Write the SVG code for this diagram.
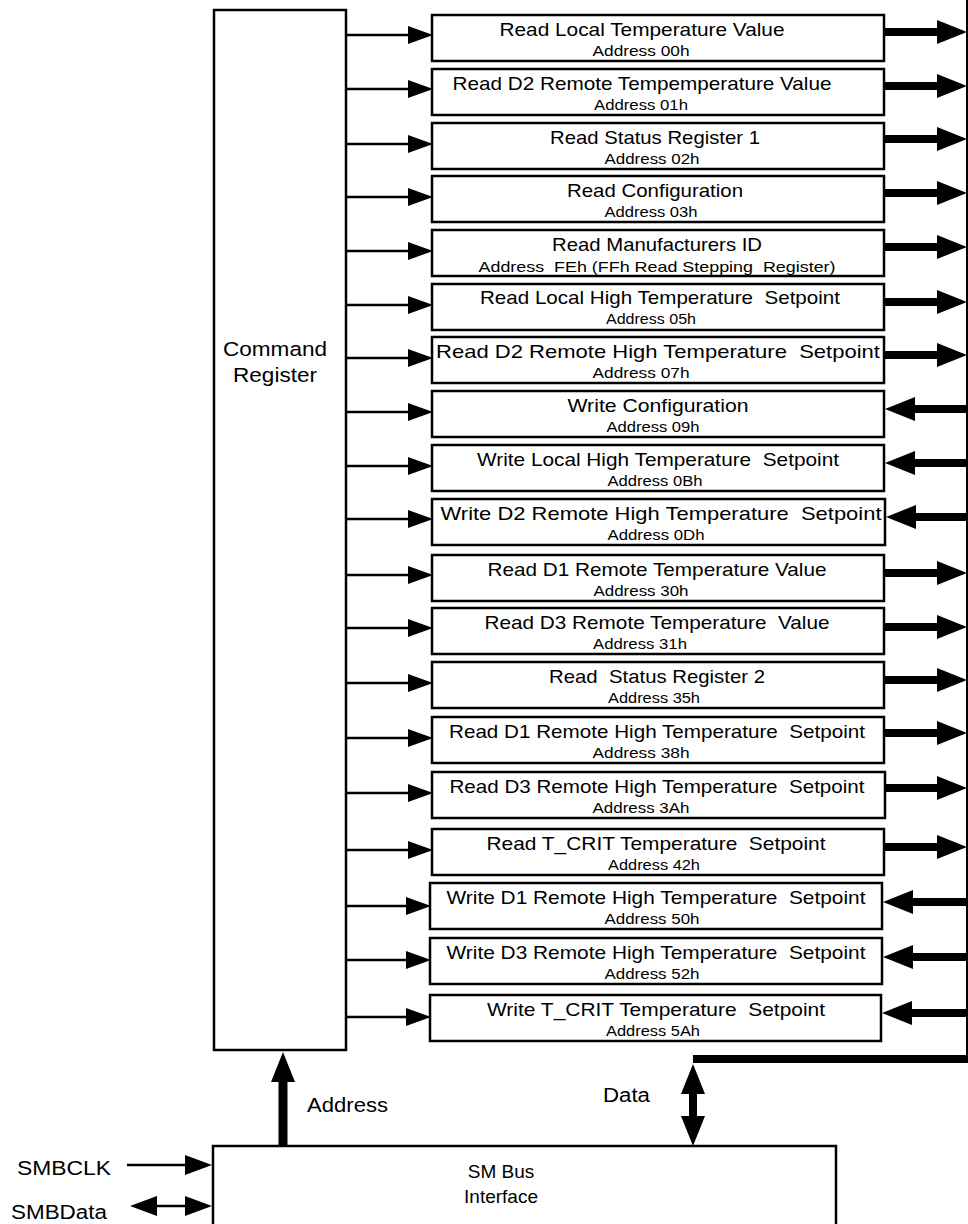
<svg xmlns="http://www.w3.org/2000/svg" width="968" height="1224" viewBox="0 0 968 1224">
<defs>
<style>
text{font-family:"Liberation Sans",Arial,Helvetica,sans-serif;fill:#000;white-space:pre}
.box{fill:#fff;stroke:#000;stroke-width:2.5}
.t{font-size:19px;text-anchor:middle}
.a{font-size:15px;text-anchor:middle}
.lbl{font-size:19.5px}
.thin{stroke:#000;stroke-width:2.5;fill:none}
.thick{stroke:#000;stroke-width:8;fill:none}
</style>
<marker id="ahs" markerUnits="userSpaceOnUse" markerWidth="25" markerHeight="18" refX="0" refY="9" orient="auto-start-reverse"><path d="M0,0 L25,9 L0,18 z" fill="#000"/></marker>
<marker id="ahm" markerUnits="userSpaceOnUse" markerWidth="27" markerHeight="20" refX="0" refY="10" orient="auto-start-reverse"><path d="M0,0 L27,10 L0,20 z" fill="#000"/></marker>
<marker id="ahb" markerUnits="userSpaceOnUse" markerWidth="30" markerHeight="24" refX="0" refY="12" orient="auto-start-reverse"><path d="M0,0 L30,12 L0,24 z" fill="#000"/></marker>
</defs>
<rect width="968" height="1224" fill="#fff"/>

<g id="command-register">
<rect class="box" x="214" y="10" width="132" height="1040"/>
<text x="275" y="356" style="font-size:20.5px;text-anchor:middle" textLength="104" lengthAdjust="spacingAndGlyphs">Command</text>
<text x="275" y="382" style="font-size:20.5px;text-anchor:middle" textLength="84" lengthAdjust="spacingAndGlyphs">Register</text>
</g>

<g id="sm-bus-interface">
<rect class="box" x="213" y="1146" width="623" height="100"/>
<text x="501" y="1178" class="t">SM Bus</text>
<text x="501" y="1203" class="t">Interface</text>
</g>

<g id="reg-00h"><rect class="box" x="432" y="15" width="452" height="46"/>
<text class="t" x="642" y="36" textLength="285" lengthAdjust="spacingAndGlyphs">Read Local Temperature Value</text>
<text class="a" x="641" y="56" textLength="97" lengthAdjust="spacingAndGlyphs">Address 00h</text></g>
<g id="reg-01h"><rect class="box" x="432" y="69" width="452" height="46"/>
<text class="t" x="642" y="90" textLength="379" lengthAdjust="spacingAndGlyphs">Read D2 Remote Tempemperature Value</text>
<text class="a" x="641" y="110" textLength="94" lengthAdjust="spacingAndGlyphs">Address 01h</text></g>
<g id="reg-02h"><rect class="box" x="432" y="123" width="452" height="46"/>
<text class="t" x="655" y="144" textLength="210" lengthAdjust="spacingAndGlyphs">Read Status Register 1</text>
<text class="a" x="652" y="164" textLength="95" lengthAdjust="spacingAndGlyphs">Address 02h</text></g>
<g id="reg-03h"><rect class="box" x="432" y="176" width="452" height="46"/>
<text class="t" x="655" y="197" textLength="176" lengthAdjust="spacingAndGlyphs">Read Configuration</text>
<text class="a" x="651" y="217" textLength="93" lengthAdjust="spacingAndGlyphs">Address 03h</text></g>
<g id="reg-feh"><rect class="box" x="432" y="230" width="452" height="46"/>
<text class="t" x="657" y="251" textLength="210" lengthAdjust="spacingAndGlyphs">Read Manufacturers ID</text>
<text class="a" x="657" y="272" textLength="357" lengthAdjust="spacingAndGlyphs">Address  FEh (FFh Read Stepping  Register)</text></g>
<g id="reg-05h"><rect class="box" x="432" y="284" width="452" height="46"/>
<text class="t" x="660" y="304" textLength="360" lengthAdjust="spacingAndGlyphs">Read Local High Temperature  Setpoint</text>
<text class="a" x="651" y="324" textLength="90" lengthAdjust="spacingAndGlyphs">Address 05h</text></g>
<g id="reg-07h"><rect class="box" x="432" y="337" width="452" height="46"/>
<text class="t" x="658" y="358" textLength="444" lengthAdjust="spacingAndGlyphs">Read D2 Remote High Temperature  Setpoint</text>
<text class="a" x="641" y="378" textLength="97" lengthAdjust="spacingAndGlyphs">Address 07h</text></g>
<g id="reg-09h"><rect class="box" x="432" y="391" width="452" height="46"/>
<text class="t" x="658" y="412" textLength="181" lengthAdjust="spacingAndGlyphs">Write Configuration</text>
<text class="a" x="653" y="432" textLength="93" lengthAdjust="spacingAndGlyphs">Address 09h</text></g>
<g id="reg-0bh"><rect class="box" x="432" y="445" width="452" height="46"/>
<text class="t" x="658" y="466" textLength="362" lengthAdjust="spacingAndGlyphs">Write Local High Temperature  Setpoint</text>
<text class="a" x="655" y="486" textLength="95" lengthAdjust="spacingAndGlyphs">Address 0Bh</text></g>
<g id="reg-0dh"><rect class="box" x="432" y="499" width="453" height="46"/>
<text class="t" x="661" y="520" textLength="441" lengthAdjust="spacingAndGlyphs">Write D2 Remote High Temperature  Setpoint</text>
<text class="a" x="656" y="540" textLength="97" lengthAdjust="spacingAndGlyphs">Address 0Dh</text></g>
<g id="reg-30h"><rect class="box" x="432" y="555" width="452" height="46"/>
<text class="t" x="657" y="576" textLength="339" lengthAdjust="spacingAndGlyphs">Read D1 Remote Temperature Value</text>
<text class="a" x="641" y="596" textLength="95" lengthAdjust="spacingAndGlyphs">Address 30h</text></g>
<g id="reg-31h"><rect class="box" x="432" y="608" width="452" height="46"/>
<text class="t" x="657" y="629" textLength="345" lengthAdjust="spacingAndGlyphs">Read D3 Remote Temperature  Value</text>
<text class="a" x="640" y="649" textLength="94" lengthAdjust="spacingAndGlyphs">Address 31h</text></g>
<g id="reg-35h"><rect class="box" x="432" y="662" width="452" height="46"/>
<text class="t" x="657" y="683" textLength="216" lengthAdjust="spacingAndGlyphs">Read  Status Register 2</text>
<text class="a" x="654" y="703" textLength="92" lengthAdjust="spacingAndGlyphs">Address 35h</text></g>
<g id="reg-38h"><rect class="box" x="432" y="717" width="452" height="46"/>
<text class="t" x="657" y="738" textLength="416" lengthAdjust="spacingAndGlyphs">Read D1 Remote High Temperature  Setpoint</text>
<text class="a" x="641" y="758" textLength="97" lengthAdjust="spacingAndGlyphs">Address 38h</text></g>
<g id="reg-3ah"><rect class="box" x="432" y="772" width="453" height="46"/>
<text class="t" x="657" y="793" textLength="415" lengthAdjust="spacingAndGlyphs">Read D3 Remote High Temperature  Setpoint</text>
<text class="a" x="641" y="813" textLength="97" lengthAdjust="spacingAndGlyphs">Address 3Ah</text></g>
<g id="reg-42h"><rect class="box" x="432" y="829" width="452" height="46"/>
<text class="t" x="656" y="850" textLength="339" lengthAdjust="spacingAndGlyphs">Read T_CRIT Temperature  Setpoint</text>
<text class="a" x="654" y="870" textLength="92" lengthAdjust="spacingAndGlyphs">Address 42h</text></g>
<g id="reg-50h"><rect class="box" x="430" y="883" width="452" height="46"/>
<text class="t" x="656" y="904" textLength="419" lengthAdjust="spacingAndGlyphs">Write D1 Remote High Temperature  Setpoint</text>
<text class="a" x="652" y="924" textLength="95" lengthAdjust="spacingAndGlyphs">Address 50h</text></g>
<g id="reg-52h"><rect class="box" x="430" y="938" width="452" height="46"/>
<text class="t" x="656" y="959" textLength="419" lengthAdjust="spacingAndGlyphs">Write D3 Remote High Temperature  Setpoint</text>
<text class="a" x="652" y="979" textLength="95" lengthAdjust="spacingAndGlyphs">Address 52h</text></g>
<g id="reg-5ah"><rect class="box" x="430" y="995" width="451" height="46"/>
<text class="t" x="656" y="1016" textLength="338" lengthAdjust="spacingAndGlyphs">Write T_CRIT Temperature  Setpoint</text>
<text class="a" x="653" y="1036" textLength="94" lengthAdjust="spacingAndGlyphs">Address 5Ah</text></g>

<g id="connectors">
<!-- command register to register blocks -->
<g class="thin" marker-end="url(#ahs)">
<path d="M347,35 H408"/>
<path d="M347,89 H408"/>
<path d="M347,144 H408"/>
<path d="M347,197 H408"/>
<path d="M347,251 H408"/>
<path d="M347,305 H408"/>
<path d="M347,358 H408"/>
<path d="M347,412 H408"/>
<path d="M347,466 H408"/>
<path d="M347,519 H408"/>
<path d="M347,575 H408"/>
<path d="M347,628 H408"/>
<path d="M347,683 H408"/>
<path d="M347,738 H408"/>
<path d="M347,793 H408"/>
<path d="M347,850 H408"/>
<path d="M347,906 H406"/>
<path d="M347,960 H406"/>
<path d="M347,1017 H406"/>
</g>
<!-- data bus -->
<path d="M967,0 V1056" stroke="#000" stroke-width="2" fill="none"/>
<path class="thick" d="M693,1059 H968"/>
<g class="thick" marker-end="url(#ahb)">
<path d="M885,32 H937"/>
<path d="M885,86 H937"/>
<path d="M885,139 H937"/>
<path d="M885,193 H937"/>
<path d="M885,247 H937"/>
<path d="M885,302 H937"/>
<path d="M885,355 H937"/>
<path d="M967,409 H915"/>
<path d="M967,463 H915"/>
<path d="M967,517 H916"/>
<path d="M885,573 H937"/>
<path d="M885,627 H937"/>
<path d="M885,680 H937"/>
<path d="M885,733 H937"/>
<path d="M886,788 H937"/>
<path d="M885,847 H937"/>
<path d="M967,902 H913"/>
<path d="M967,957 H913"/>
<path d="M967,1013 H912"/>
</g>
<path class="thick" d="M693,1094 V1116" marker-start="url(#ahb)" marker-end="url(#ahb)"/>
<text class="lbl" x="603" y="1102" textLength="47" lengthAdjust="spacingAndGlyphs">Data</text>
<!-- address bus -->
<path d="M283,1146 V1082" stroke="#000" stroke-width="9" fill="none" marker-end="url(#ahb)"/>
<text class="lbl" x="307" y="1112" textLength="81" lengthAdjust="spacingAndGlyphs">Address</text>
<!-- external pins -->
<path class="thin" d="M127,1165 H185" marker-end="url(#ahm)"/>
<text class="lbl" x="17" y="1175" textLength="94" lengthAdjust="spacingAndGlyphs">SMBCLK</text>
<path class="thin" d="M157,1206 H185" marker-start="url(#ahm)" marker-end="url(#ahm)"/>
<text class="lbl" x="11" y="1219" textLength="96" lengthAdjust="spacingAndGlyphs">SMBData</text>
</g>
</svg>
